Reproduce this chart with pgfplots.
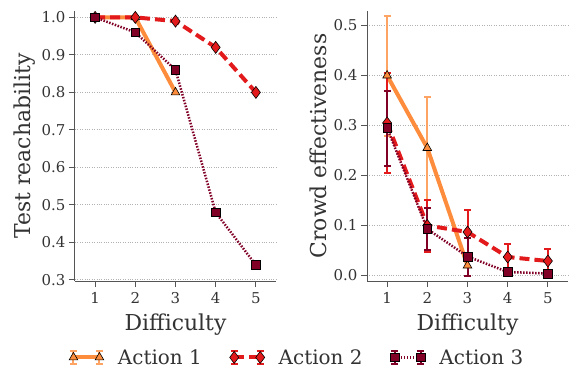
\documentclass[border=0pt]{standalone}
\usepackage{pgfplots}
\pgfplotsset{compat=1.18}
\usepackage{fontspec}
\setmainfont{DejaVu Serif}
\definecolor{cA}{HTML}{FD8D3C}
\definecolor{cAe}{HTML}{FDA464}
\definecolor{cB}{HTML}{E31A1C}
\definecolor{cC}{HTML}{800026}
\definecolor{spine}{HTML}{555555}
\definecolor{txt}{HTML}{333333}

\newcommand{\errleg}[1]{%
  \draw[draw=#1, line width=2bp, solid] (0bp,-6.5bp)--(0bp,6.5bp) (-3.5bp,6.5bp)--(3.5bp,6.5bp) (-3.5bp,-6.5bp)--(3.5bp,-6.5bp)
     (26bp,-6.5bp)--(26bp,6.5bp) (22.5bp,6.5bp)--(29.5bp,6.5bp) (22.5bp,-6.5bp)--(29.5bp,-6.5bp);}

\pgfplotsset{
  common/.style={
    scale only axis, width=201bp, height=270bp,
    axis x line*=bottom, axis y line*=left,
    axis line style={spine, line width=1bp},
    every tick/.style={spine, line width=1bp},
    major tick length=6bp, tick align=outside,
    xtick={1,2,3,4,5}, xmin=0.5, xmax=5.5,
    ymajorgrids, grid style={dotted, gray!60, line width=1bp},
    tick label style={font=\fontsize{15}{18}\selectfont, text=txt},
    xticklabel style={yshift=-2bp},
    label style={font=\fontsize{22}{26}\selectfont, text=txt},
    /pgf/number format/assume math mode=true,
    yticklabel style={/pgf/number format/.cd, fixed, fixed zerofill, precision=1},
    xlabel={Difficulty},
    xlabel style={yshift=-3bp},
  },
  sA/.style={cA, line width=4bp, solid, mark=triangle*, mark size=5bp,
    mark options={solid, fill=cA, draw=black, line width=0.6bp}},
  sB/.style={cB, line width=4bp, dash pattern=on 10bp off 5bp, mark=diamond*, mark size=6bp,
    mark options={solid, fill=cB, draw=black, line width=0.6bp}},
  sC/.style={cC, line width=2.5bp, dash pattern=on 1.5bp off 1.5bp, mark=square*, mark size=4.3bp,
    mark options={solid, fill=cC, draw=black, line width=0.6bp}},
  eb/.style={draw=none, mark=none, forget plot,
    error bars/.cd, y dir=both, y explicit,
    error bar style={draw=#1, line width=2bp, solid},
    error mark options={rotate=90, mark size=3.5bp, draw=#1, line width=2bp, solid}},
  legA/.style={legend image code/.code={%
    \errleg{cAe}
    \draw[##1] (0bp,0bp) -- (26bp,0bp);
    \draw[##1, only marks] plot coordinates {(0bp,0bp) (26bp,0bp)};}},
  legB/.style={legend image code/.code={%
    \errleg{cB}
    \draw[##1] (0bp,0bp) -- (26bp,0bp);
    \draw[##1, only marks] plot coordinates {(0bp,0bp) (26bp,0bp)};}},
  legC/.style={legend image code/.code={%
    \errleg{cC}
    \draw[##1] (0bp,0bp) -- (26bp,0bp);
    \draw[##1, only marks] plot coordinates {(0bp,0bp) (26bp,0bp)};}},
}

\begin{document}
\begin{tikzpicture}
\begin{axis}[common,
  ymin=0.2973, ymax=1.017, ytick={0.3,0.4,0.5,0.6,0.7,0.8,0.9,1.0},
  ylabel={Test reachability},
  legend columns=3,
  legend style={at={(1.105,-0.283)}, anchor=center, draw=none, fill=none,
    font=\fontsize{20}{23}\selectfont, text=txt,
    /tikz/every odd column/.append style={column sep=12bp},
    /tikz/every even column/.append style={column sep=26bp}},
]
\addplot[sA, legA] coordinates {(1,1.0) (2,1.0) (3,0.8)};
\addlegendentry{Action 1}
\addplot[sB, legB] coordinates {(1,1.0) (2,1.0) (3,0.99) (4,0.92) (5,0.80)};
\addlegendentry{Action 2}
\addplot[sC, legC] coordinates {(1,1.0) (2,0.96) (3,0.86) (4,0.48) (5,0.34)};
\addlegendentry{Action 3}
\end{axis}

\begin{axis}[common, at={(292bp,0)},
  ymin=-0.011, ymax=0.529, ytick={0,0.1,0.2,0.3,0.4,0.5},
  ylabel={Crowd effectiveness},
]
\addplot[eb=cAe]
  coordinates {(1,0.40) +- (0,0.12) (2,0.255) +- (0,0.103) (3,0.02) +- (0,0.02)};
\addplot[sA] coordinates {(1,0.40) (2,0.255) (3,0.02)};
\addplot[eb=cB]
  coordinates {(1,0.305) +- (0,0.1) (2,0.10) +- (0,0.052) (3,0.087) +- (0,0.045)
               (4,0.037) +- (0,0.027) (5,0.029) +- (0,0.025)};
\addplot[sB] coordinates {(1,0.305) (2,0.10) (3,0.087) (4,0.037) (5,0.029)};
\addplot[eb=cC]
  coordinates {(1,0.295) +- (0,0.075) (2,0.093) +- (0,0.042) (3,0.038) +- (0,0.038)
               (4,0.007) +- (0,0.007) (5,0.004) +- (0,0.004)};
\addplot[sC] coordinates {(1,0.295) (2,0.093) (3,0.038) (4,0.007) (5,0.004)};
\end{axis}
\pgfresetboundingbox
\path (-75bp,-87bp) rectangle (496bp,281bp);
\end{tikzpicture}
\end{document}
